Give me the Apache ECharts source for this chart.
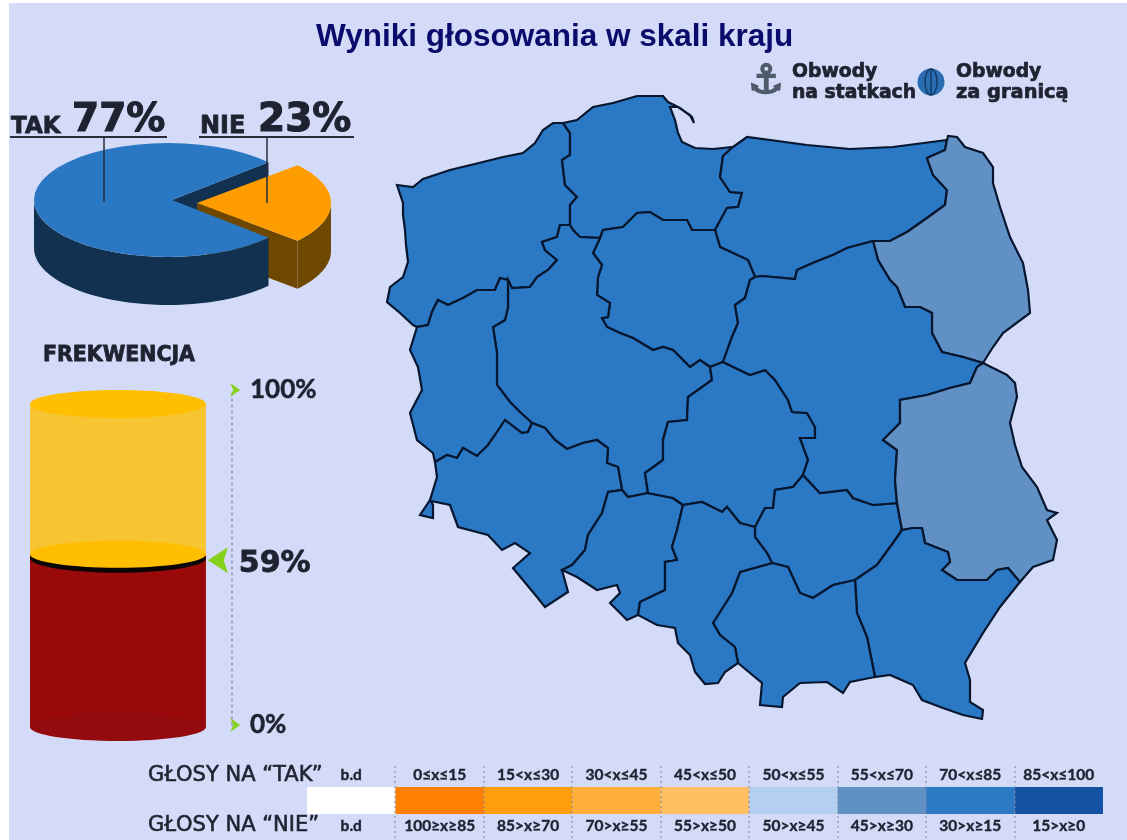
<!DOCTYPE html>
<html lang="pl">
<head>
    <meta charset="utf-8">
    <title>Wyniki głosowania w skali kraju</title>
    <script src="https://cdn.jsdelivr.net/npm/echarts@6/dist/echarts.min.js"></script>
    <style>
        html, body { margin: 0; padding: 0; background: #fff; }
        #paper { position: absolute; left: 9px; top: 3px; width: 1118px; height: 837px; background: #D4DBF8; }
        #pic1 { position: absolute; left: 0; top: 0; width: 1127px; height: 840px; }
    </style>
</head>
<body>
<div id="paper"></div>
<div id="pic1"></div>

<script>
    // wynik krajowy
    var voteNames = ['TAK', 'NIE'];
    var voteValues = [77, 23];

    // frekwencja: podpis 59%, ale na oryginale poziom w walcu nie jest w skali
    var turnoutLabel = '59%';
    var turnoutDrawnLevel = [51];
    var drumTopLevel = [95.8];
    var turnoutTicks = [0, 100];

    // legenda
    var topLabels = ['b.d', '0≤x≤15', '15<x≤30', '30<x≤45', '45<x≤50', '50<x≤55', '55<x≤70', '70<x≤85', '85<x≤100'];
    var bottomLabels = ['b.d', '100≥x≥85', '85>x≥70', '70>x≥55', '55>x≥50', '50>x≥45', '45>x≥30', '30>x≥15', '15>x≥0'];
    var bandColors = ['#FFFFFF', '#FF7F00', '#FF9D0A', '#FFAE3A', '#FFBF62', '#B4D0F0', '#6090C4', '#2B78C5', '#1452A3'];
    var bandMin = [0, 15, 30, 45, 50, 55, 70, 85];
    var bandMax = [15, 30, 45, 50, 55, 70, 85, 100];

    // wojewodztwa: z mapy odczytac mozna tylko przedzial, wiec srodek przedzialu
    var regionNames = ['zachodniopomorskie', 'pomorskie', 'warmińsko-mazurskie', 'podlaskie', 'kujawsko-pomorskie',
        'wielkopolskie', 'lubuskie', 'dolnośląskie', 'opolskie', 'łódzkie', 'świętokrzyskie', 'mazowieckie',
        'lubelskie', 'podkarpackie', 'małopolskie', 'śląskie'];
    var regionValues = [77.5, 77.5, 77.5, 62.5, 77.5, 77.5, 77.5, 77.5, 77.5, 77.5, 77.5, 77.5, 62.5, 77.5, 77.5, 77.5];

    // granice (wspolne odcinki), wspolrzedne jak na rysunku
    var zpOuter = [[417,327],[413,325],[400,313],[387,302],[390,287],[403,277],[408,262],[406,245],[405,230],[403,215],[403,203],[397,185],[413,187],[423,179],[450,170],[483,162],[503,157],[523,153],[535,143],[543,130],[553,123],[563,123]];
    var zpPm = [[563,123],[570,133],[570,155],[562,160],[565,185],[577,197],[570,205],[570,225]];
    var zpWp = [[570,225],[560,225],[557,237],[542,242],[545,250],[557,260],[548,270],[537,277],[530,287],[512,288],[508,280]];
    var zpLb = [[508,280],[500,278],[497,285],[495,290],[477,290],[463,298],[448,305],[438,300],[432,312],[428,325],[417,327]];
    var pmOuter = [[563,123],[577,120],[593,107],[613,103],[637,96],[663,96],[668,102],[680,108],[692,117],[694,123],[690,115],[678,107],[670,107],[675,120],[678,133],[682,142],[695,148],[713,149],[733,147]];
    var pmWm = [[733,147],[723,156],[720,177],[730,192],[742,193],[738,207],[727,208],[715,230]];
    var pmKp = [[715,230],[692,230],[687,220],[675,220],[663,220],[650,212],[637,213],[623,227],[603,230],[600,238]];
    var pmWp = [[600,238],[580,237],[573,230],[570,225]];
    var wmOuter = [[733,147],[747,137],[807,145],[850,149],[893,147],[947,140]];
    var wmPd = [[947,140],[945,150],[927,158],[933,175],[947,190],[945,205],[927,218],[907,232],[890,241],[873,241]];
    var wmMz = [[873,241],[847,248],[833,255],[815,262],[797,270],[795,279],[773,277],[762,276],[755,277]];
    var wmKp = [[715,230],[720,247],[748,260],[755,277]];
    var pdOuter = [[947,140],[948,136],[957,137],[965,147],[983,153],[993,167],[993,183],[1000,207],[1010,237],[1023,263],[1028,290],[1030,313],[1003,333],[993,347],[983,363]];
    var mzPd = [[873,241],[878,260],[890,280],[897,287],[905,307],[920,307],[932,313],[932,333],[942,352],[963,357],[983,363]];
    var kpMz = [[755,277],[750,280],[745,298],[735,305],[738,323],[732,337],[723,362]];
    var kpLd = [[723,362],[710,367]];
    var kpWp = [[710,367],[700,360],[690,367],[673,350],[663,347],[653,350],[633,338],[620,333],[607,327],[602,318],[608,317],[610,303],[597,295],[598,277],[602,265],[593,253],[600,238]];
    var wpLd = [[710,367],[712,380],[688,397],[687,420],[668,422],[663,440],[663,460],[645,473],[648,493]];
    var wpOp = [[648,493],[628,497],[622,490]];
    var wpDs = [[622,490],[618,467],[607,463],[608,448],[597,440],[583,443],[567,449],[555,440],[545,428],[532,423]];
    var lbWp = [[508,280],[508,307],[505,320],[493,327],[497,353],[497,385],[510,402],[520,412],[532,423]];
    var lbOuter = [[417,327],[410,350],[418,367],[422,390],[410,413],[417,440],[433,453],[435,462]];
    var lbDs = [[532,423],[528,432],[522,433],[505,420],[495,435],[488,445],[477,456],[463,448],[457,458],[447,455],[435,462]];
    var dsOuter = [[435,462],[437,477],[430,500],[420,515],[433,518],[433,505],[431,501],[450,505],[458,527],[488,535],[502,550],[515,543],[530,553],[513,568],[537,597],[545,607],[568,592],[562,570]];
    var dsOp = [[562,570],[572,565],[585,550],[588,535],[602,513],[608,492],[622,490]];
    var opOuter = [[638,615],[627,620],[610,603],[620,593],[617,585],[597,590],[577,577],[562,570]];
    var opLd = [[648,493],[673,498],[683,505]];
    var opSl = [[683,505],[677,530],[672,547],[677,560],[665,562],[665,590],[640,602],[638,615]];
    var ldMz = [[723,362],[750,375],[765,370],[775,380],[788,400],[792,412],[807,413],[815,427],[815,438],[800,438],[808,460],[803,475]];
    var ldSk = [[803,475],[793,487],[775,490],[773,508],[765,508],[755,527]];
    var ldSl = [[683,505],[702,502],[722,512],[727,507],[740,523],[755,527]];
    var skSl = [[755,527],[755,537],[767,553],[772,563]];
    var skMa = [[772,563],[788,567],[800,593],[813,598],[833,585],[855,580]];
    var skPk = [[855,580],[877,565],[893,543],[902,530]];
    var skLu = [[902,530],[897,503]];
    var mzSk = [[897,503],[873,505],[853,498],[847,490],[820,493],[803,475]];
    var mzLu = [[983,363],[977,367],[970,383],[950,388],[927,395],[900,400],[900,423],[883,440],[897,450],[895,480],[897,503]];
    var luOuter = [[983,363],[1007,375],[1015,383],[1017,397],[1010,423],[1015,445],[1022,467],[1037,487],[1047,510],[1057,513],[1047,520],[1057,540],[1053,560],[1033,567],[1020,582]];
    var luPk = [[902,530],[913,528],[922,528],[925,543],[948,552],[950,562],[942,570],[957,580],[987,580],[997,570],[1008,568],[1020,582]];
    var pkOuter = [[1020,582],[1000,607],[983,633],[965,663],[970,680],[970,702],[983,710],[982,719],[963,715],[943,708],[922,700],[913,685],[890,675],[875,677]];
    var maPk = [[855,580],[857,613],[867,637],[875,677]];
    var maOuter = [[875,677],[850,682],[843,693],[827,682],[800,683],[783,697],[782,707],[760,705],[762,683],[738,663]];
    var maSl = [[772,563],[740,572],[732,593],[713,623],[720,635],[735,647],[738,663]];
    var slOuter = [[738,663],[725,672],[718,683],[705,684],[695,672],[690,655],[678,643],[675,628],[657,625],[638,615]];

    function rev(a) {
        return a.slice().reverse();
    }

    var regionRings = [
        [zpOuter, zpPm, zpWp, zpLb],
        [pmOuter, pmWm, pmKp, pmWp, rev(zpPm)],
        [wmOuter, wmPd, wmMz, rev(wmKp), rev(pmWm)],
        [pdOuter, rev(mzPd), rev(wmPd)],
        [wmKp, kpMz, kpLd, kpWp, rev(pmKp)],
        [zpWp, lbWp, rev(wpDs), rev(wpOp), rev(wpLd), kpWp, pmWp],
        [lbOuter, rev(lbDs), rev(lbWp), zpLb],
        [dsOuter, dsOp, wpDs, lbDs],
        [dsOp, rev(wpOp), opLd, opSl, opOuter],
        [rev(kpLd), ldMz, ldSk, rev(ldSl), rev(opLd), rev(wpLd)],
        [ldSk, skSl, skMa, skPk, skLu, mzSk],
        [mzPd, mzLu, mzSk, rev(ldMz), rev(kpMz), rev(wmMz)],
        [luOuter, rev(luPk), skLu, rev(mzLu)],
        [luPk, pkOuter, rev(maPk), skPk],
        [skMa, maPk, maOuter, rev(maSl)],
        [ldSl, skSl, maSl, slOuter, rev(opSl)]
    ];

    function buildGeoJson() {
        var features = [];
        for (var i = 0; i < regionNames.length; i++) {
            var ring = [];
            regionRings[i].forEach(function (edge) {
                edge.forEach(function (p) {
                    ring.push([p[0], -p[1]]); // geojson ma os y do gory
                });
            });
            ring.push(ring[0]);
            features.push({
                type: 'Feature',
                properties: { name: regionNames[i] },
                geometry: { type: 'Polygon', coordinates: [ring] }
            });
        }
        return { type: 'FeatureCollection', features: features };
    }

    window.onload = function () {
        echarts.registerMap('polska', buildGeoJson());
        var mCharts = echarts.init(document.getElementById('pic1'));

        var mapData = regionNames.map(function (name, i) {
            return { name: name, value: regionValues[i] };
        });
        var pieces = bandMin.map(function (m, i) {
            return { min: m, max: bandMax[i], color: bandColors[i + 1] };
        });
        var legendData = bandColors.map(function (c) {
            return { value: 1, itemStyle: { color: c } };
        });

        // ciasto 3d: elipsa, katy z wartosci
        function arc(cx, cy, a, b, from, to, dy) {
            var pts = [];
            var n = 40;
            for (var i = 0; i <= n; i++) {
                var t = (from + (to - from) * i / n) * Math.PI / 180;
                pts.push([cx + a * Math.cos(t), cy + b * Math.sin(t) + dy]);
            }
            return pts;
        }

        function renderPie(params, api) {
            var half = voteValues[1] / (voteValues[0] + voteValues[1]) * 360 / 2;
            var a = 134, b = 57, depth = 48;
            function poly(points, fill, z2) {
                return { type: 'polygon', z2: z2, shape: { points: points }, style: { fill: fill } };
            }
            if (params.dataIndex === 0) {
                var cx = 168, cy = 200;
                var upper = arc(cx, cy, a, b, -half, -half, 0)[0];
                var top = [[172, cy]].concat(arc(cx, cy, a, b, half, 360 - half, 0));
                var wall = arc(cx, cy, a, b, half, 180, 0).concat(rev(arc(cx, cy, a, b, half, 180, depth)));
                return {
                    type: 'group',
                    children: [
                        poly([[172, cy], upper, [upper[0], upper[1] + depth], [172, cy + depth]], '#12304F', 1),
                        poly(wall, '#12304F', 4),
                        poly(top, '#2A77C4', 5)
                    ]
                };
            }
            var ox = 197, oy = 203;
            var lower = arc(ox, oy, a, b, half, half, 0)[0];
            var orangeWall = arc(ox, oy, a, b, 0, half, 0).concat(rev(arc(ox, oy, a, b, 0, half, depth)));
            var orangeTop = [[ox, oy]].concat(arc(ox, oy, a, b, -half, half, 0));
            return {
                type: 'group',
                children: [
                    poly([[ox, oy], lower, [lower[0], lower[1] + depth], [ox, oy + depth]], '#6E4700', 2),
                    poly(orangeWall, '#6E4700', 2),
                    poly(orangeTop, '#FF9D00', 3)
                ]
            };
        }

        // walec frekwencji
        function renderDrum(params, api) {
            var left = api.coord([0, 0])[0];
            var right = api.coord([87.1, 0])[0];
            var cx = (left + right) / 2, rx = (right - left) / 2;
            var yBottom = api.coord([0, 0])[1] + 2;
            var yLevel = api.coord([0, api.value(0)])[1];
            var yTop = api.coord([0, api.value(1)])[1];
            return {
                type: 'group',
                children: [
                    { type: 'rect', shape: { x: left, y: yTop, width: rx * 2, height: yLevel - yTop }, style: { fill: '#F7C531' } },
                    { type: 'ellipse', shape: { cx: cx, cy: yTop, rx: rx, ry: 14 }, style: { fill: '#FFBF00' } },
                    { type: 'rect', shape: { x: left, y: yLevel, width: rx * 2, height: yBottom - yLevel }, style: { fill: '#9B0A0B' } },
                    { type: 'ellipse', shape: { cx: cx, cy: yBottom, rx: rx, ry: 14 }, style: { fill: '#930B0E' } },
                    { type: 'ellipse', shape: { cx: cx, cy: yLevel + 4, rx: rx, ry: 14.5 }, style: { fill: '#0A0606' } },
                    { type: 'ellipse', shape: { cx: cx, cy: yLevel, rx: rx, ry: 13.5 }, style: { fill: '#FFBF00' } }
                ]
            };
        }

        // kropkowane podzialki miedzy przedzialami legendy
        function renderSeparator(params, api) {
            var p = api.coord([api.value(0), 0]);
            var x = Math.round(p[0] + api.size([1, 0])[0] / 2);
            var yTop = api.coord([0, 1])[1];
            return {
                type: 'line',
                shape: { x1: x, y1: yTop - 21, x2: x, y2: p[1] + 26 },
                style: { stroke: '#7E8397', lineWidth: 1, lineDash: [2, 3] }
            };
        }

        function label(text, x, y, size, family, weight, thick, fill) {
            var color = fill || '#1F2230';
            return {
                type: 'text', x: x, y: y, z: 20,
                style: {
                    text: text, fill: color, stroke: color, lineWidth: thick, fontSize: size, fontFamily: family,
                    fontWeight: weight, verticalAlign: 'middle', align: 'left'
                }
            };
        }

        function rule(x1, y1, x2, y2, width) {
            return {
                type: 'line', z: 20,
                shape: { x1: x1, y1: y1, x2: x2, y2: y2 },
                style: { stroke: '#2A2C3A', lineWidth: width }
            };
        }

        var heavy = 'DejaVu Sans';
        var legendLabel = {
            interval: 0, margin: 4, fontFamily: 'Lato', fontWeight: 'bold', fontSize: 15.5, color: '#1F2230',
            textBorderColor: '#1F2230', textBorderWidth: 0.4
        };
        var option = {
            animation: false,
            title: {
                text: 'Wyniki głosowania w skali kraju',
                left: 311, top: 16,
                textStyle: { fontFamily: 'Liberation Sans', fontSize: 31.5, fontWeight: 'bold', color: '#0B0B6B' }
            },
            visualMap: {
                show: false, type: 'piecewise', seriesIndex: 1, pieces: pieces
            },
            grid: [
                { left: 30, top: 390, width: 202, height: 335 },
                { left: 307, top: 787, width: 796, height: 27 }
            ],
            xAxis: [
                { gridIndex: 0, type: 'value', min: 0, max: 100, show: false },
                {
                    gridIndex: 1, type: 'category', position: 'top', data: topLabels,
                    axisLine: { show: false }, axisTick: { show: false }, axisLabel: legendLabel
                },
                {
                    gridIndex: 1, type: 'category', position: 'bottom', data: bottomLabels,
                    axisLine: { show: false }, axisTick: { show: false }, axisLabel: legendLabel
                }
            ],
            yAxis: [
                {
                    gridIndex: 0, type: 'value', min: 0, max: 100, interval: 100, position: 'right',
                    splitLine: { show: false }, axisTick: { show: false },
                    axisLine: { show: true, onZero: false, lineStyle: { color: '#8D97B8', type: [2, 4], width: 1.5 } },
                    axisLabel: {
                        margin: 18, fontFamily: 'Lato', fontWeight: 'bold', fontSize: 26, color: '#1F2230',
                        textBorderColor: '#1F2230', textBorderWidth: 0.5,
                        formatter: function (v) { return v + '%'; }
                    }
                },
                { gridIndex: 1, type: 'value', min: 0, max: 1, show: false }
            ],
            series: [
                {
                    type: 'custom', name: 'glosy', coordinateSystem: 'none', silent: true,
                    renderItem: renderPie,
                    data: voteValues.map(function (v, i) { return { name: voteNames[i], value: [v] }; })
                },
                {
                    type: 'map', map: 'polska', silent: true, aspectScale: 1, roam: false,
                    layoutCenter: [722, 407.5], layoutSize: 670,
                    label: { show: false },
                    itemStyle: { borderColor: '#06162E', borderWidth: 2.2 },
                    data: mapData
                },
                {
                    type: 'custom', name: 'frekwencja', xAxisIndex: 0, yAxisIndex: 0, silent: true,
                    renderItem: renderDrum,
                    data: [[turnoutDrawnLevel[0], drumTopLevel[0]]]
                },
                {
                    type: 'scatter', xAxisIndex: 0, yAxisIndex: 0, silent: true, z: 6, clip: false,
                    symbol: 'path://M0,0 L10,5 L0,10 L3,5 Z', symbolSize: [10, 14],
                    itemStyle: { color: '#86D11C', opacity: 1 },
                    data: turnoutTicks.map(function (t) { return [101.6, t]; })
                },
                {
                    type: 'scatter', xAxisIndex: 0, yAxisIndex: 0, silent: true, z: 6, clip: false,
                    symbol: 'path://M0,5 L10,0 L8,5 L10,10 Z', symbolSize: [20, 26], symbolOffset: [0, 6],
                    itemStyle: { color: '#86D11C', opacity: 1 },
                    label: {
                        show: true, position: 'right', distance: 11, offset: [0, 4], formatter: turnoutLabel,
                        fontFamily: heavy, fontWeight: 'bold', fontSize: 30, color: '#1F2230',
                        textBorderColor: '#1F2230', textBorderWidth: 0.8
                    },
                    data: [[93, turnoutDrawnLevel[0]]]
                },
                {
                    type: 'bar', xAxisIndex: 1, yAxisIndex: 1, barWidth: '100%', silent: true,
                    data: legendData
                },
                {
                    type: 'custom', xAxisIndex: 1, yAxisIndex: 1, silent: true, z: 5,
                    renderItem: renderSeparator,
                    data: [[0], [1], [2], [3], [4], [5], [6], [7]]
                }
            ],
            graphic: [
                label('TAK', 11, 127, 23, heavy, 'bold', 0.8),
                label('77%', 72, 121, 39, heavy, 'bold', 1.2),
                label('NIE', 200, 127, 24, heavy, 'bold', 0.8),
                label('23%', 258, 121, 39, heavy, 'bold', 1.2),
                rule(10, 137, 167, 137, 2),
                rule(199, 137, 354, 137, 2),
                rule(104, 137, 104, 202, 1.5),
                rule(267, 137, 267, 203, 1.5),
                label('FREKWENCJA', 43, 356, 20.5, heavy, 'bold', 0.8),
                label('Obwody', 792, 72, 18.8, heavy, 'bold', 0.7),
                label('na statkach', 792, 93, 18.8, heavy, 'bold', 0.7),
                label('Obwody', 956, 72, 18.8, heavy, 'bold', 0.7),
                label('za granicą', 956, 93, 19.4, heavy, 'bold', 0.7),
                label('⚓', 748, 83, 40, heavy, 'bold', 1.8, '#4F5B6A'),
                { type: 'circle', z: 20, shape: { cx: 931, cy: 82, r: 13.5 }, style: { fill: '#2A6DB0' } },
                { type: 'ellipse', z: 21, shape: { cx: 931, cy: 82, rx: 6, ry: 13 }, style: { fill: 'none', stroke: '#123A66', lineWidth: 1.5 } },
                { type: 'line', z: 21, shape: { x1: 931, y1: 69, x2: 931, y2: 95 }, style: { stroke: '#123A66', lineWidth: 1.5 } },
                label('GŁOSY NA “TAK”', 148, 776, 21, heavy, 'normal', 0.6),
                label('GŁOSY NA “NIE”', 148, 826, 21, heavy, 'normal', 0.6)
            ]
        };

        mCharts.setOption(option);
    };
</script>
</body>
</html>
